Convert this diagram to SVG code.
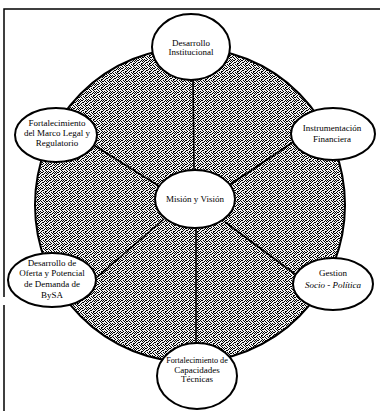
<svg xmlns="http://www.w3.org/2000/svg" width="380" height="411" viewBox="0 0 380 411">
  <defs>
    <pattern id="stipple" width="8" height="8" patternUnits="userSpaceOnUse">
      <rect width="8" height="8" fill="#f2f2f2"/>
      <path fill="#000" d="M0,0h1v1h-1z M3,0h1v1h-1z M5,0h1v1h-1z M1,1h1v1h-1z M4,1h1v1h-1z M6,1h1v1h-1z M7,1h1v1h-1z M2,2h1v1h-1z M5,2h1v1h-1z M0,3h1v1h-1z M3,3h1v1h-1z M6,3h1v1h-1z M1,4h1v1h-1z M2,4h1v1h-1z M5,4h1v1h-1z M7,4h1v1h-1z M0,5h1v1h-1z M4,5h1v1h-1z M6,5h1v1h-1z M2,6h1v1h-1z M3,6h1v1h-1z M7,6h1v1h-1z M1,7h1v1h-1z M5,7h1v1h-1z M6,7h1v1h-1z"/>
    </pattern>
  </defs>
  <style>
    .frame { stroke: #000; stroke-width: 1.5; fill: none; }
    .ring { fill: url(#stipple); stroke: #000; stroke-width: 2; }
    .spoke { stroke: #000; stroke-width: 1.6; fill: none; }
    .node { fill: #fff; stroke: #000; stroke-width: 2; }
    .lbl { font-family: "Liberation Serif", "Times New Roman", serif; font-size: 9px; fill: #000; text-anchor: middle; }
    .sm { font-size: 8.2px; }
    .it { font-style: italic; }
  </style>
  <rect width="380" height="411" fill="#fff"/>
  <g id="frame">
    <path class="frame" d="M4,411 V305 M4,297 V9 H380"/>
  </g>
  <g id="ring">
    <ellipse class="ring" cx="190" cy="205" rx="155" ry="157"/>
  </g>
  <g id="connectors">
    <line class="spoke" x1="193" y1="78" x2="194" y2="172"/>
    <line class="spoke" x1="196" y1="226" x2="196" y2="345"/>
    <line class="spoke" x1="92" y1="144" x2="162" y2="188"/>
    <line class="spoke" x1="228" y1="186" x2="296" y2="140"/>
    <line class="spoke" x1="96" y1="278" x2="164" y2="219"/>
    <line class="spoke" x1="225" y1="222" x2="295" y2="274"/>
  </g>
  <g id="n-desarrollo-institucional">
    <ellipse class="node" cx="191" cy="47" rx="39" ry="33"/>
    <text class="lbl" x="191" y="46">Desarrollo</text>
    <text class="lbl" x="191" y="55">Institucional</text>
  </g>
  <g id="n-marco-legal">
    <ellipse class="node" cx="56" cy="135" rx="41" ry="27"/>
    <text class="lbl" x="57" y="126">Fortalecimiento</text>
    <text class="lbl" x="57" y="136">del Marco Legal y</text>
    <text class="lbl" x="57" y="146">Regulatorio</text>
  </g>
  <g id="n-instrumentacion">
    <ellipse class="node" cx="333" cy="134" rx="42" ry="26"/>
    <text class="lbl" x="332" y="131">Instrumentación</text>
    <text class="lbl" x="332" y="142">Financiera</text>
  </g>
  <g id="n-mision">
    <ellipse class="node" cx="195" cy="199" rx="40" ry="29"/>
    <text class="lbl" x="195" y="202">Misión y Visión</text>
  </g>
  <g id="n-oferta">
    <ellipse class="node" cx="52" cy="280" rx="44" ry="27"/>
    <text class="lbl" x="52" y="266">Desarrollo de</text>
    <text class="lbl" x="52" y="276">Oferta y Potencial</text>
    <text class="lbl" x="52" y="287">de Demanda de</text>
    <text class="lbl" x="52" y="298">BySA</text>
  </g>
  <g id="n-gestion">
    <ellipse class="node" cx="333" cy="284" rx="40" ry="26"/>
    <text class="lbl" x="333" y="276">Gestion</text>
    <text class="lbl it" x="333" y="288">Socio - Política</text>
  </g>
  <g id="n-capacidades">
    <ellipse class="node" cx="197" cy="376" rx="40" ry="33"/>
    <text class="lbl sm" x="197" y="363">Fortalecimiento de</text>
    <text class="lbl" x="197" y="373">Capacidades</text>
    <text class="lbl" x="197" y="382">Técnicas</text>
  </g>
</svg>
